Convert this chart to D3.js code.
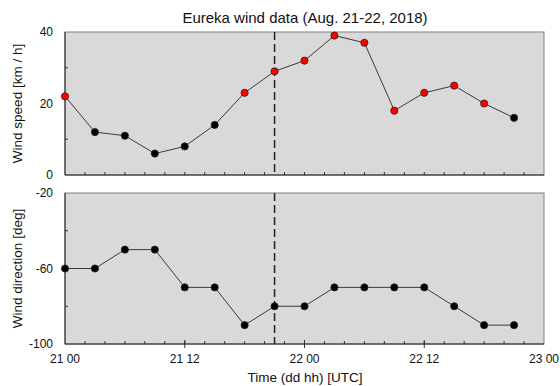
<!DOCTYPE html>
<html>
<head>
<meta charset="utf-8">
<script src="https://cdn.jsdelivr.net/npm/d3@7"></script>
<style>
  html, body { margin: 0; padding: 0; background: #fff; }
  svg { display: block; font-family: "Liberation Sans", Arial, sans-serif; }
</style>
</head>
<body>
<svg id="chart" width="560" height="386"></svg>
<script>
// Observation times, in hours after Aug. 21 00:00 UTC
const hours = [0, 3, 6, 9, 12, 15, 18, 21, 24, 27, 30, 33, 36, 39, 42, 45];
// Wind speed [km/h]
const windSpeed = [22, 12, 11, 6, 8, 14, 23, 29, 32, 39, 37, 18, 23, 25, 20, 16];
// Wind direction [deg]
const windDirection = [-60, -60, -50, -50, -70, -70, -90, -80, -80, -70, -70, -70, -70, -80, -90, -90];
// Speeds above this are drawn in red
const speedThreshold = 17;
// Event marker time (hours)
const eventHour = 21;
// Axis ticks
const timeTickHours = [0, 12, 24, 36, 48];
const timeTickLabels = ["21 00", "21 12", "22 00", "22 12", "23 00"];
const speedTicks = [0, 20, 40];
const directionTicks = [-20, -60, -100];

const svg = d3.select("#chart");
const left = 65, right = 544;
const top1 = 32, bottom1 = 175;
const top2 = 193, bottom2 = 344;

const x = d3.scaleLinear().domain([0, 48]).range([left, right]);
const ySpeed = d3.scaleLinear().domain([0, 40]).range([bottom1, top1]);
const yDir = d3.scaleLinear().domain([-100, -20]).range([bottom2, top2]);

function panel(y, top, bottom, values, majorTicks, minorTicks, colorFn, showTimeLabels) {
  const g = svg.append("g");
  // plot background and frame
  g.append("rect")
    .attr("x", left).attr("y", top)
    .attr("width", right - left).attr("height", bottom - top)
    .attr("fill", "#d9d9d9")
    .attr("stroke", "#808080").attr("stroke-width", 1);

  // minor time ticks every 2 h, pointing inward
  const minorX = d3.range(2, 48, 2);
  g.selectAll(".xt").data(minorX).join("line")
    .attr("x1", d => x(d)).attr("x2", d => x(d))
    .attr("y1", bottom).attr("y2", bottom - 3)
    .attr("stroke", "#333").attr("stroke-width", 1);
  if (showTimeLabels) {
    // major ticks cross the axis line
    g.selectAll(".xm").data(timeTickHours.slice(1, -1)).join("line")
      .attr("x1", d => x(d)).attr("x2", d => x(d))
      .attr("y1", bottom - 4).attr("y2", bottom + 4)
      .attr("stroke", "#333").attr("stroke-width", 1);
    g.selectAll(".xl").data(timeTickHours).join("text")
      .attr("x", d => x(d)).attr("y", bottom + 19)
      .attr("text-anchor", "middle")
      .attr("font-size", 12).attr("fill", "#111")
      .text((d, i) => timeTickLabels[i]);
  }

  // y ticks
  g.selectAll(".ym").data(minorTicks).join("line")
    .attr("x1", left).attr("x2", left + 3)
    .attr("y1", d => y(d)).attr("y2", d => y(d))
    .attr("stroke", "#333");
  g.selectAll(".yl").data(majorTicks).join("text")
    .attr("x", left - 12).attr("y", d => y(d) + 4)
    .attr("text-anchor", "end")
    .attr("font-size", 12).attr("fill", "#111")
    .text(d => d);

  // axis lines
  g.append("line").attr("x1", left).attr("x2", left)
    .attr("y1", top).attr("y2", bottom).attr("stroke", "#222");
  g.append("line").attr("x1", left).attr("x2", right)
    .attr("y1", bottom).attr("y2", bottom).attr("stroke", "#222");

  // event marker
  g.append("line")
    .attr("x1", x(eventHour)).attr("x2", x(eventHour))
    .attr("y1", top).attr("y2", bottom)
    .attr("stroke", "#222").attr("stroke-width", 1.5)
    .attr("stroke-dasharray", "8,4");

  // series
  const line = d3.line().x((d, i) => x(hours[i])).y(d => y(d));
  g.append("path").datum(values)
    .attr("d", line).attr("fill", "none")
    .attr("stroke", "#3a3a3a").attr("stroke-width", 1);
  g.selectAll(".pt").data(values).join("circle")
    .attr("cx", (d, i) => x(hours[i])).attr("cy", d => y(d))
    .attr("r", 3.6)
    .attr("fill", d => colorFn(d))
    .attr("stroke", "#222").attr("stroke-width", 0.8);
}

panel(ySpeed, top1, bottom1, windSpeed, speedTicks, [10, 30],
  d => d > speedThreshold ? "#ff0000" : "#000", false);
panel(yDir, top2, bottom2, windDirection, directionTicks, [-40, -80],
  () => "#000", true);

// title and axis labels
svg.append("text")
  .attr("x", 305).attr("y", 23)
  .attr("text-anchor", "middle").attr("font-size", 15).attr("fill", "#111")
  .text("Eureka wind data (Aug. 21-22, 2018)");
svg.append("text")
  .attr("transform", `translate(22,${(top1 + bottom1) / 2}) rotate(-90)`)
  .attr("text-anchor", "middle").attr("font-size", 13.5).attr("fill", "#111")
  .text("Wind speed [km / h]");
svg.append("text")
  .attr("transform", `translate(22,${(top2 + bottom2) / 2}) rotate(-90)`)
  .attr("text-anchor", "middle").attr("font-size", 13.5).attr("fill", "#111")
  .text("Wind direction [deg]");
svg.append("text")
  .attr("x", 305).attr("y", 382)
  .attr("text-anchor", "middle").attr("font-size", 13.5).attr("fill", "#111")
  .text("Time (dd hh) [UTC]");
</script>
</body>
</html>
